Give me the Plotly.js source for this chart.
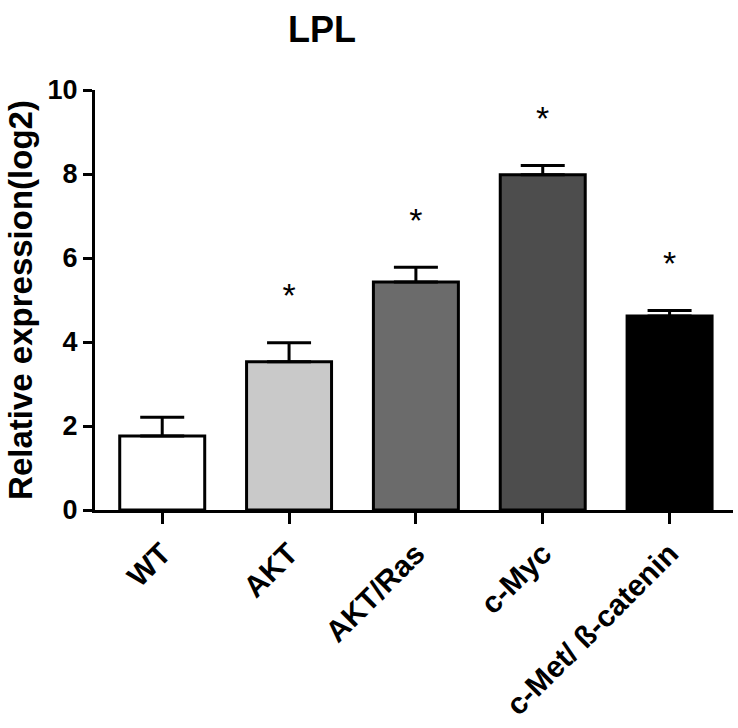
<!DOCTYPE html>
<html>
<head>
<meta charset="utf-8">
<script src="https://cdn.plot.ly/plotly-3.0.1.min.js"></script>
<style>html,body{margin:0;padding:0;background:#fff}#chart{width:738px;height:728px}</style>
</head>
<body>
<div id="chart"></div>
<script>
const categories = ['WT', 'AKT', 'AKT/Ras', 'c-Myc', 'c-Met/ ß-catenin'];
const means = [1.76, 3.53, 5.43, 7.98, 4.62];
const errors = [0.45, 0.45, 0.35, 0.22, 0.13];
const barColors = ['#ffffff', '#c9c9c9', '#6b6b6b', '#4d4d4d', '#000000'];
const significant = [false, true, true, true, true];
const starOffset = 1.05;

const FONT = 'Liberation Sans, Arial, Helvetica, sans-serif';

const bars = {
  type: 'bar',
  x: categories,
  y: means,
  width: 0.67,
  marker: { color: barColors, line: { color: '#000', width: 3 } },
  error_y: { type: 'data', symmetric: false, array: errors, arrayminus: errors.map(() => 0), color: '#000', thickness: 3, width: 22 },
  hoverinfo: 'skip'
};

const starX = [], starY = [];
categories.forEach((c, i) => { if (significant[i]) { starX.push(c); starY.push(means[i] + errors[i] + starOffset); } });

const stars = {
  type: 'scatter', mode: 'text', x: starX, y: starY,
  text: starX.map(() => '*'), textposition: 'middle center',
  textfont: { family: FONT, size: 34, color: '#000' }, hoverinfo: 'skip'
};

const layout = {
  width: 738, height: 728,
  margin: { l: 95, r: 5, t: 90, b: 218 },
  paper_bgcolor: '#fff', plot_bgcolor: '#fff',
  showlegend: false,
  title: { text: 'LPL', font: { family: FONT, size: 36, weight: 'bold', color: '#000' }, x: 322/738, xanchor: 'center', xref: 'container', y: 0.96, yanchor: 'middle' },
  xaxis: {
    type: 'category', range: [-0.53, 4.5],
    showline: true, linecolor: '#000', linewidth: 3,
    ticks: 'outside', ticklen: 11, tickwidth: 3, tickcolor: '#000',
    tickangle: -45, tickfont: { family: FONT, size: 30, weight: 'bold', color: '#000' },
    showgrid: false, zeroline: false, fixedrange: true
  },
  yaxis: {
    range: [0, 10], tickvals: [0, 2, 4, 6, 8, 10],
    showline: true, linecolor: '#000', linewidth: 3,
    ticks: 'outside', ticklen: 9, tickwidth: 3, tickcolor: '#000',
    tickfont: { family: FONT, size: 27, weight: 'bold', color: '#000' },
    title: { text: 'Relative expression(log2)', font: { family: FONT, size: 33, weight: 'bold', color: '#000' }, standoff: 6 },
    showgrid: false, zeroline: false, fixedrange: true
  }
};

Plotly.newPlot('chart', [bars, stars], layout, { displayModeBar: false, staticPlot: true });
</script>
</body>
</html>
